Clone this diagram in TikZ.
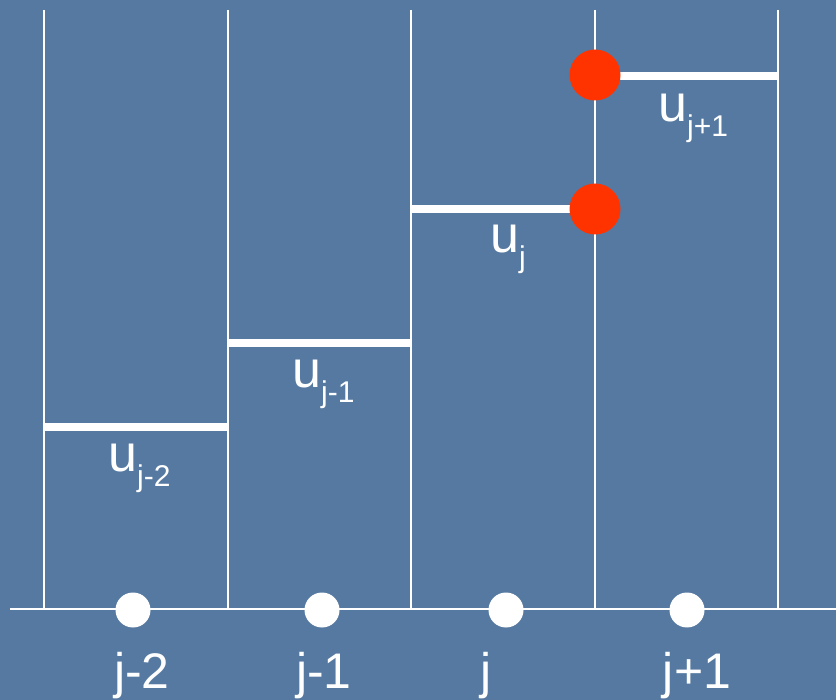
\documentclass[tikz,border=0pt]{standalone}
\usepackage{fontspec}
\setmainfont{Liberation Sans}
\usetikzlibrary{positioning}

\definecolor{slideblue}{RGB}{86,121,161}
\definecolor{fluxred}{RGB}{255,51,0}

% u with a lowered subscript, as on the slide
\newcommand{\ucell}[1]{u\raisebox{-15pt}{\fontsize{30}{30}\selectfont #1}}

\begin{document}
\begin{tikzpicture}[
    x=1pt, y=-1pt,
    gridline/.style={draw=white, line width=2.5pt},
    cellval/.style={draw=white, line width=8.5pt},
    ulbl/.style={text=white, inner sep=0pt, anchor=base west, font=\fontsize{52}{52}\selectfont},
    jlbl/.style={text=white, inner sep=0pt, anchor=base, font=\fontsize{50}{50}\selectfont},
    griddot/.style={circle, fill=white, inner sep=0pt, minimum size=35pt},
    fluxdot/.style={circle, fill=fluxred, inner sep=0pt, minimum size=51pt}
]

% slide background
\fill[slideblue] (0,0) rectangle (836,700);
\useasboundingbox (0,0) rectangle (836,700);

% Cell walls
\coordinate (w0t) at (44,10);   \coordinate (w0b) at (44,609);
\coordinate (w1t) at (228,10);  \coordinate (w1b) at (228,609);
\coordinate (w2t) at (411,10);  \coordinate (w2b) at (411,609);
\coordinate (w3t) at (595,10);  \coordinate (w3b) at (595,609);
\coordinate (w4t) at (778,10);  \coordinate (w4b) at (778,609);
\draw[gridline] (w0t) -- (w0b);
\draw[gridline] (w1t) -- (w1b);
\draw[gridline] (w2t) -- (w2b);
\draw[gridline] (w3t) -- (w3b);
\draw[gridline] (w4t) -- (w4b);

% Axis
\coordinate (axL) at (10,609);
\coordinate (axR) at (836,609);
\draw[gridline] (axL) -- (axR);

% Cell averages
\draw[cellval] (44,427) coordinate (c0l) -- (228,427) coordinate (c0r);
\draw[cellval] (228,343) coordinate (c1l) -- (411,343) coordinate (c1r);
\draw[cellval] (411,209) coordinate (c2l) -- (595,209) coordinate (c2r);
\draw[cellval] (595,76) coordinate (c3l) -- (778,76) coordinate (c3r);

\node[ulbl] (u0) at (108,472) {\ucell{j-2}};
\node[ulbl] (u1) at (292,388) {\ucell{j-1}};
\node[ulbl] (u2) at (490,253) {\ucell{j}};
\node[ulbl] (u3) at (658,122) {\ucell{j+1}};

% Interface values
\node[fluxdot] (fR) at (595,209) {};
\node[fluxdot] (fL) at (595,75) {};

% Cell centres
\node[griddot] (x0) at (133,610) {};
\node[griddot] (x1) at (322,610) {};
\node[griddot] (x2) at (506,610) {};
\node[griddot] (x3) at (687,610) {};

\node[jlbl] (j0) at (142,688) {j-2};
\node[jlbl] (j1) at (324,688) {j-1};
\node[jlbl] (j2) at (486,688) {j};
\node[jlbl] (j3) at (697,688) {j+1};

\end{tikzpicture}
\end{document}
